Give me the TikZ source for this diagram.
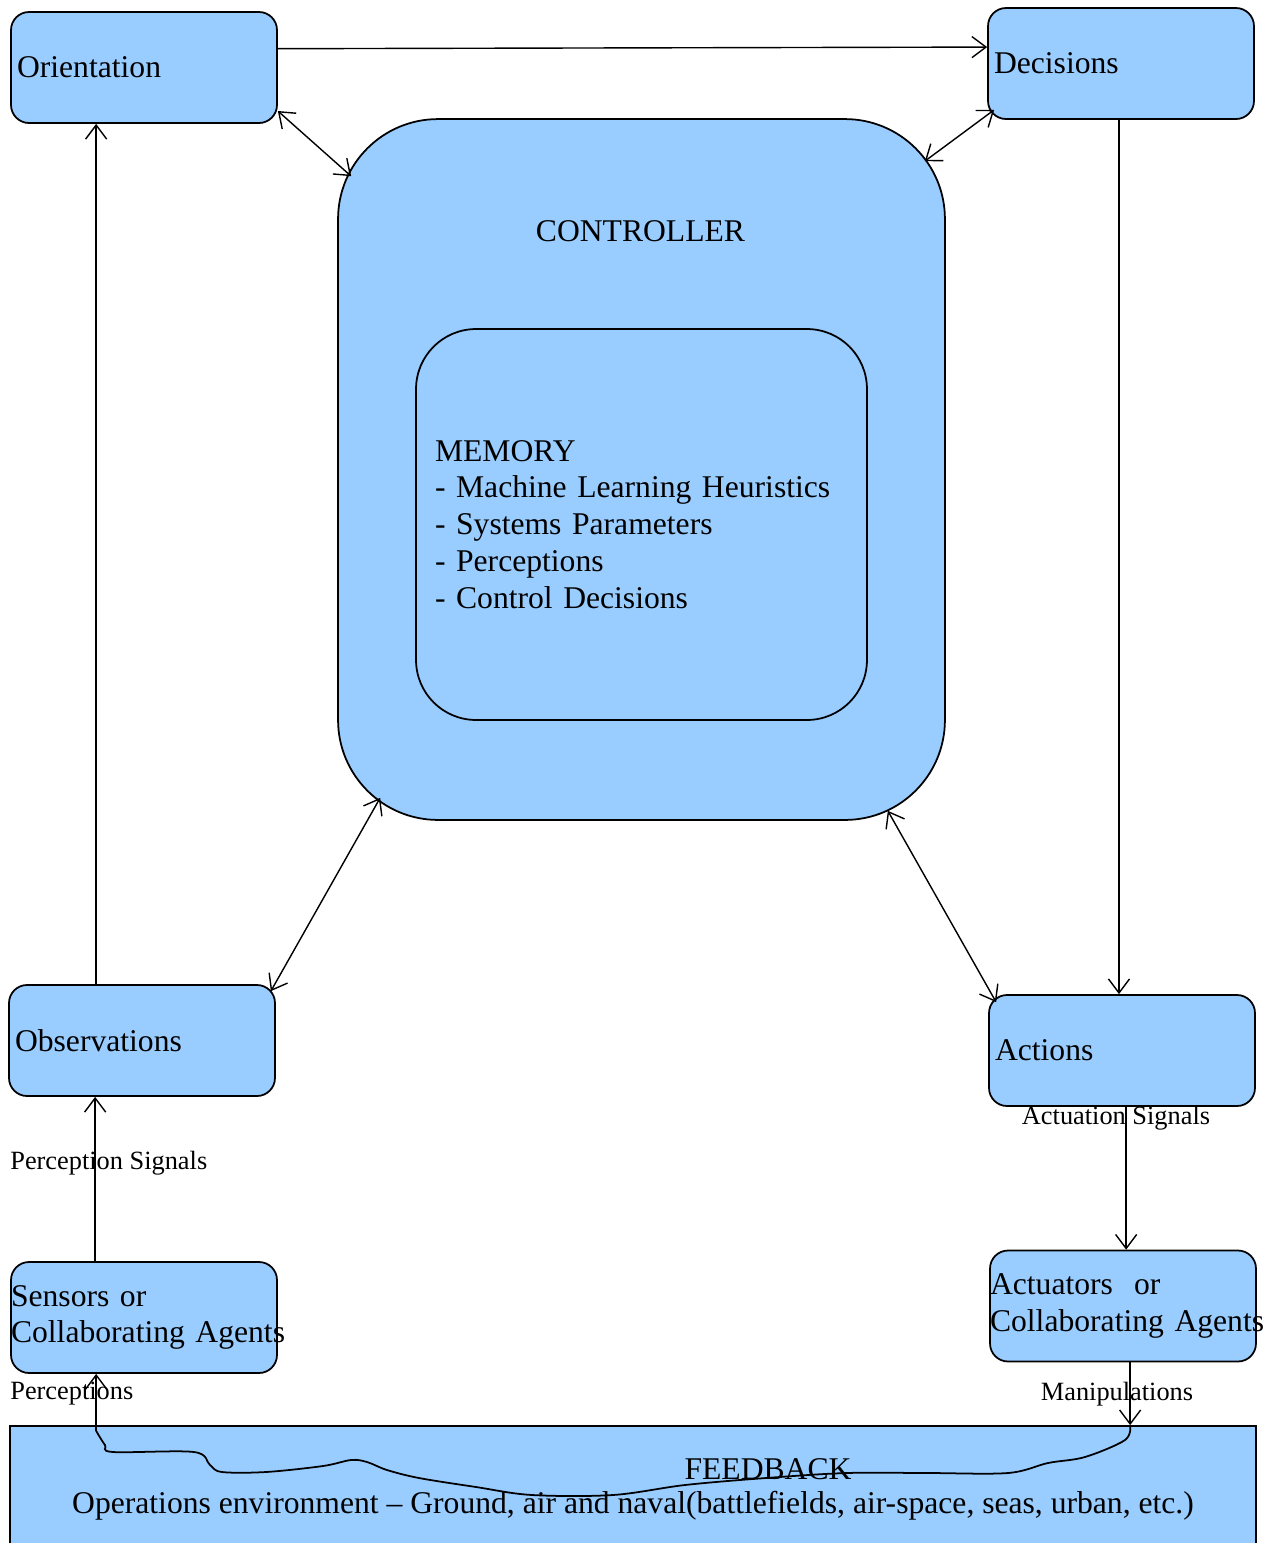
\documentclass[tikz,border=0pt]{standalone}
\usepackage{fontspec}
\setmainfont{Liberation Serif}
\usetikzlibrary{calc}
\usetikzlibrary{arrows.meta,positioning}
\definecolor{boxblue}{HTML}{99CCFF}

\begin{document}
\begin{tikzpicture}[
	x=0.02cm, y=-0.02cm,
	pile/.style={
		line width=0.8pt,
		->,
		>={Straight Barb[length=8pt,width=12pt]}
	},
	knoten/.style={
		draw,
		line width=1pt,
		fill=boxblue,
		rounded corners=0.36cm,
		minimum width=5.32cm,
		minimum height=2.22cm,
		text width=5.08cm,
		inner xsep=0.12cm,
		inner ysep=0pt,
		align=left,
		font=\fontsize{18}{20.7}\selectfont
	},
	breit/.style={text width=5.32cm, inner xsep=-0.04cm},
	schrift/.style={font=\fontsize{18}{20.7}\selectfont},
	klein/.style={font=\fontsize{15}{18}\selectfont, inner sep=0pt}
]
\useasboundingbox (0,0) rectangle (1263,1543);

\node[knoten] (ORI) at (144,67.5) {Orientation};
\node[knoten] (DEC) at (1121,63.5) {Decisions};

\node[knoten, rounded corners=2cm, minimum width=12.14cm, minimum height=14.02cm]
	(CTRL) at (641.5,469.5) {};
\node[schrift] (CTRLT) at (640.5,231) {CONTROLLER};

\node[knoten, rounded corners=1.2cm, minimum width=9.02cm, minimum height=7.82cm,
	text width=8.26cm, inner xsep=0.38cm, font=\fontsize{18}{21}\selectfont]
	(MEM) at (641.5,524.5)
{MEMORY\\- Machine Learning Heuristics\\- Systems Parameters\\- Perceptions\\- Control Decisions};

\node[knoten] (OBS) at (142,1040.5) {Observations};
\node[knoten] (ACT) at (1122,1050.5) {Actions};

\node[knoten, breit] (SENS) at (144,1317.5)
	{\mbox{Sensors or}\\\mbox{Collaborating Agents}};
\node[knoten, breit] (ACTU) at (1123,1306)
	{\mbox{Actuators~~or}\\\mbox{Collaborating Agents}};

\node[draw, line width=1pt, fill=boxblue, minimum width=24.92cm, minimum height=3.2cm, schrift]
	(FB) at (633,1506)
{Operations environment -- Ground, air and naval(battlefields, air-space, seas, urban, etc.)};
\node[schrift] (FBT) at (768,1469) {FEEDBACK};

\draw[pile] (ORI.8.3) -> (DEC.173.4);
\draw[pile, <->] (ORI.-18) -- ($(CTRL.north west)+(14,58)$);
\draw[pile, <->] ($(DEC.south west)+(7,-10)$) -- ($(CTRL.north east)+(-21,43)$);
\draw[pile] ($(DEC.south)+(-2,0)$) coordinate (d1) -> (d1 |- ACT.north);
\draw[pile] ($(OBS.north west)+(88,0)$) coordinate (o1) -> (o1 |- ORI.south);
\draw[pile, <->] ($(CTRL.south west)+(43,-23)$) -- ($(OBS.north east)+(-5,7)$);
\draw[pile, <->] ($(CTRL.south east)+(-58,-10)$) -- ($(ACT.north west)+(8,8)$);
\draw[pile] ($(SENS.north west)+(85,0)$) coordinate (s1) -> (s1 |- OBS.south);
\draw[pile] ($(ACT.south west)+(138,0)$) coordinate (a1) -> (a1 |- ACTU.north);
\draw[pile] ($(ACTU.south west)+(141,0)$) coordinate (m1) -> (m1 |- FB.north);

% feedback loop back to the sensors
\coordinate (w0) at (m1 |- FB.north);
\coordinate (w1) at ($(SENS.south west)+(86,57)$);
\draw[line width=1pt] plot[smooth, tension=0.55] coordinates {
	(w0) (1125,1440) (1085,1457) (1048,1463) (1008,1473) (927,1473)
	(847,1473) (766,1478) (685,1485) (613,1495) (532,1495) (476,1487)
	(419,1478) (387,1470) (367,1462) (351,1460) (323,1466) (266,1472)
	(222,1472) (210,1465) (194,1452) (113,1452) (105,1445) (w1)};
\draw[pile] (w1) -> (w1 |- SENS.south);

\node[klein, anchor=west] (PSIG) at (10,1163) {Perception Signals};
\node[klein] (ASIG) at (1116,1118) {Actuation Signals};
\node[klein, anchor=west] (PERC) at (10,1394) {Perceptions};
\node[klein] (MANI) at (1117,1394) {Manipulations};

\end{tikzpicture}
\end{document}
